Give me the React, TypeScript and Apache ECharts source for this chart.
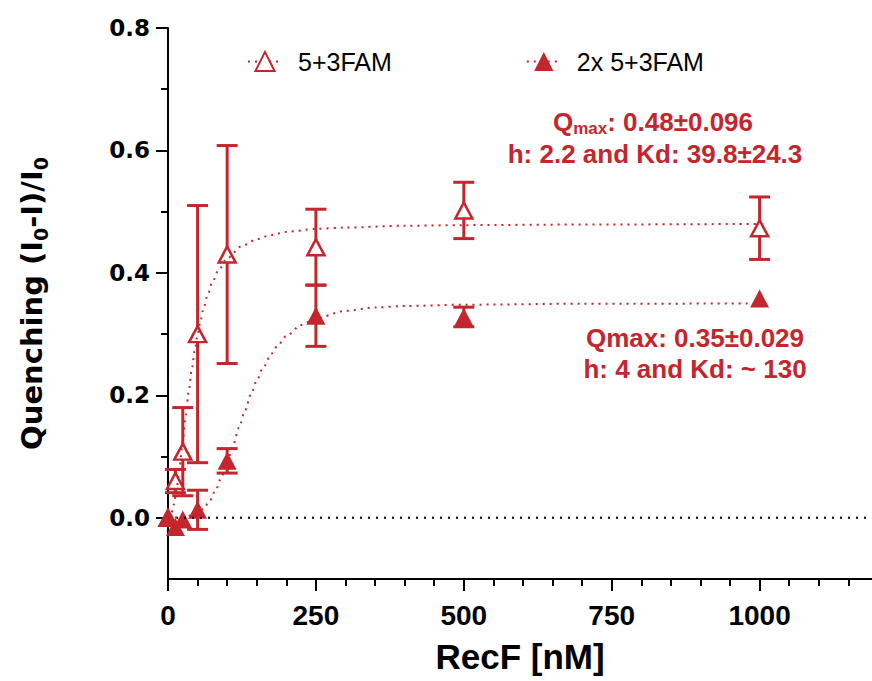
import React, { useEffect, useRef } from "react";
import * as echarts from "echarts";

const RED = "#c4262e";

// Measured data (RecF concentration in nM)
const conc = [0, 12.5, 25, 50, 100, 250, 500, 1000];
const q1 = [0, 0.06, 0.108, 0.3, 0.43, 0.442, 0.502, 0.473];
const e1 = [0, 0.019, 0.072, 0.21, 0.178, 0.062, 0.046, 0.051];
const q2 = [0, -0.015, -0.003, 0.013, 0.093, 0.33, 0.328, 0.358];
const e2 = [0, 0, 0, 0.032, 0.02, 0.05, 0.016, 0];

// Fit curves
const fit1X = [0, 5, 10, 15, 20, 25, 30, 35, 40, 45, 50, 55, 60, 67, 75, 85, 100, 125, 150, 175, 200, 250, 300, 400, 500, 700, 1000];
const fit1Y = [0, 0.005, 0.022, 0.05, 0.087, 0.127, 0.168, 0.206, 0.241, 0.272, 0.299, 0.322, 0.342, 0.364, 0.385, 0.404, 0.424, 0.444, 0.455, 0.462, 0.467, 0.472, 0.474, 0.477, 0.478, 0.479, 0.48];
const fit2X = [0, 25, 50, 60, 70, 80, 90, 100, 110, 120, 130, 140, 150, 160, 175, 185, 200, 225, 250, 300, 350, 400, 500, 700, 1000];
const fit2Y = [0, 0.0005, 0.0075, 0.015, 0.027, 0.044, 0.065, 0.091, 0.119, 0.147, 0.175, 0.201, 0.224, 0.244, 0.268, 0.281, 0.297, 0.315, 0.326, 0.338, 0.3435, 0.346, 0.348, 0.3496, 0.35];

const seriesNames = ["5+3FAM", "2x 5+3FAM"];
const xMajorTicks = [0, 250, 500, 750, 1000];
const xMinorTicks = [50, 100, 150, 200, 300, 350, 400, 450, 550, 600, 650, 700, 800, 850, 900, 950, 1050, 1100, 1150];
const yMajorTicks = [0, 0.2, 0.4, 0.6, 0.8];
const yMinorTicks = [0.1, 0.3, 0.5, 0.7];

const X_MAX = 1190;
const Y_MIN = -0.1;
const Y_MAX = 0.8;

const errRender = (params: any, api: any) => {
  const x = api.value(0);
  const lo = api.value(1);
  const hi = api.value(2);
  if (hi - lo <= 0) return { type: "group", children: [] };
  const pLo = api.coord([x, lo]);
  const pHi = api.coord([x, hi]);
  const hw = 10.5;
  const style = { stroke: RED, lineWidth: 3 };
  return {
    type: "group",
    children: [
      { type: "line", shape: { x1: pLo[0], y1: pLo[1], x2: pHi[0], y2: pHi[1] }, style },
      { type: "line", shape: { x1: pLo[0] - hw, y1: pLo[1], x2: pLo[0] + hw, y2: pLo[1] }, style },
      { type: "line", shape: { x1: pHi[0] - hw, y1: pHi[1], x2: pHi[0] + hw, y2: pHi[1] }, style },
    ],
  };
};

export default function App() {
  const ref = useRef<HTMLDivElement>(null);
  useEffect(() => {
    if (!ref.current) return;
    const chart = echarts.init(ref.current, null, { renderer: "svg" });
    const grid = { left: 168, right: 0, top: 28, bottom: 102 };
    const narrow = '"Liberation Sans Narrow", "Liberation Sans", Arial, sans-serif';
    const wide = '"DejaVu Sans", sans-serif';
    const option: any = {
      animation: false,
      backgroundColor: "#fff",
      grid: [grid, { ...grid }],
      legend: {
        data: seriesNames,
        left: 242,
        top: 44,
        itemWidth: 34,
        itemHeight: 24,
        itemGap: 134,
        textStyle: { fontSize: 25, fontFamily: '"Liberation Sans", Arial, sans-serif', color: "#000", padding: [0, 0, 0, 11] },
      },
      xAxis: [
        {
          type: "value",
          gridIndex: 0,
          min: 0,
          max: X_MAX,
          interval: 250,
          splitLine: { show: false },
          axisLine: { onZero: false, lineStyle: { color: "#000", width: 2 } },
          axisTick: { customValues: xMajorTicks, length: 12, lineStyle: { color: "#000", width: 2 } },
          axisLabel: {
            customValues: xMajorTicks,
            formatter: (v: number) => String(v),
            margin: 22,
            fontSize: 28,
            fontWeight: "bold",
            fontFamily: narrow,
            color: "#000",
          },
          name: "RecF [nM]",
          nameLocation: "middle",
          nameGap: 60,
          nameTextStyle: { fontSize: 35, fontWeight: "bold", fontFamily: narrow, color: "#000" },
        },
        {
          type: "value",
          gridIndex: 1,
          min: 0,
          max: X_MAX,
          interval: 50,
          splitLine: { show: false },
          axisLine: { show: false, onZero: false },
          axisTick: { customValues: xMinorTicks, length: 7, lineStyle: { color: "#000", width: 2 } },
          axisLabel: { show: false },
        },
      ],
      yAxis: [
        {
          type: "value",
          gridIndex: 0,
          min: Y_MIN,
          max: Y_MAX,
          interval: 0.1,
          splitLine: { show: false },
          axisLine: { onZero: false, lineStyle: { color: "#000", width: 2 } },
          axisTick: { customValues: yMajorTicks, length: 12, lineStyle: { color: "#000", width: 2 } },
          axisLabel: {
            customValues: yMajorTicks,
            formatter: (v: number) => v.toFixed(1),
            margin: 18,
            fontSize: 23,
            fontWeight: "bold",
            fontFamily: wide,
            color: "#000",
          },
          name: "Quenching (I{s|0}-I)/I{s|0}",
          nameLocation: "middle",
          nameGap: 118,
          nameTextStyle: {
            fontSize: 29,
            fontWeight: "bold",
            fontFamily: wide,
            color: "#000",
            lineHeight: 36,
            rich: {
              s: { fontSize: 19, fontWeight: "bold", fontFamily: wide, color: "#000", verticalAlign: "bottom", lineHeight: 36 },
            },
          },
        },
        {
          type: "value",
          gridIndex: 1,
          min: Y_MIN,
          max: Y_MAX,
          interval: 0.1,
          splitLine: { show: false },
          axisLine: { show: false, onZero: false },
          axisTick: { customValues: yMinorTicks, length: 7, lineStyle: { color: "#000", width: 2 } },
          axisLabel: { show: false },
        },
      ],
      graphic: [
        {
          type: "text",
          x: 653,
          y: 122,
          style: {
            text: "{a|Q}{s|max}{a|: 0.48±0.096}",
            align: "center",
            verticalAlign: "middle",
            fill: RED,
            rich: {
              a: { fontSize: 26, fontWeight: "bold", fontFamily: '"Liberation Sans", Arial, sans-serif', fill: RED, lineHeight: 30 },
              s: { fontSize: 17, fontWeight: "bold", fontFamily: '"Liberation Sans", Arial, sans-serif', fill: RED, lineHeight: 30, verticalAlign: "bottom" },
            },
          },
        },
        {
          type: "text",
          x: 655,
          y: 154,
          style: {
            text: "h: 2.2 and Kd: 39.8±24.3",
            align: "center",
            verticalAlign: "middle",
            fill: RED,
            font: 'bold 26px "Liberation Sans", Arial, sans-serif',
          },
        },
        {
          type: "text",
          x: 695,
          y: 338,
          style: {
            text: "Qmax: 0.35±0.029",
            align: "center",
            verticalAlign: "middle",
            fill: RED,
            font: 'bold 26px "Liberation Sans", Arial, sans-serif',
          },
        },
        {
          type: "text",
          x: 695,
          y: 369,
          style: {
            text: "h: 4 and Kd: ~ 130",
            align: "center",
            verticalAlign: "middle",
            fill: RED,
            font: 'bold 26px "Liberation Sans", Arial, sans-serif',
          },
        },
      ],
      series: [
        {
          type: "line",
          name: "baseline",
          data: [[0, 0], [X_MAX, 0]],
          symbol: "none",
          silent: true,
          lineStyle: { color: "#000", width: 2, type: [2, 6] },
        },
        {
          type: "line",
          name: seriesNames[0],
          data: fit1X.map((x, i) => [x, fit1Y[i]]),
          smooth: 0.3,
          smoothMonotone: "x",
          symbol: "triangle",
          showSymbol: false,
          symbolSize: 17,
          itemStyle: { color: "#fff", borderColor: RED, borderWidth: 2.5 },
          lineStyle: { color: RED, width: 2, type: [2, 5] },
        },
        {
          type: "line",
          name: seriesNames[1],
          data: fit2X.map((x, i) => [x, fit2Y[i]]),
          smooth: 0.3,
          smoothMonotone: "x",
          symbol: "triangle",
          showSymbol: false,
          symbolSize: 18,
          itemStyle: { color: RED },
          lineStyle: { color: RED, width: 2, type: [2, 5] },
        },
        {
          type: "custom",
          name: "err1",
          renderItem: errRender,
          encode: { x: 0, y: [1, 2] },
          data: conc.map((x, i) => [x, q1[i] - e1[i], q1[i] + e1[i]]),
        },
        {
          type: "custom",
          name: "err2",
          renderItem: errRender,
          encode: { x: 0, y: [1, 2] },
          data: conc.map((x, i) => [x, q2[i] - e2[i], q2[i] + e2[i]]),
        },
        {
          type: "scatter",
          name: seriesNames[0],
          symbol: "triangle",
          symbolSize: [17, 16],
          itemStyle: { color: "#fff", borderColor: RED, borderWidth: 2.5, opacity: 1 },
          data: conc.map((x, i) => [x, q1[i]]),
        },
        {
          type: "scatter",
          name: seriesNames[1],
          symbol: "triangle",
          symbolSize: [19, 18],
          itemStyle: { color: RED, opacity: 1 },
          data: conc.map((x, i) => [x, q2[i]]),
        },
      ],
    };
    chart.setOption(option);
    return () => chart.dispose();
  }, []);
  return (
    <div
      ref={ref}
      style={{ position: "fixed", left: 0, top: 0, width: 872, height: 681, background: "#fff" }}
    />
  );
}
